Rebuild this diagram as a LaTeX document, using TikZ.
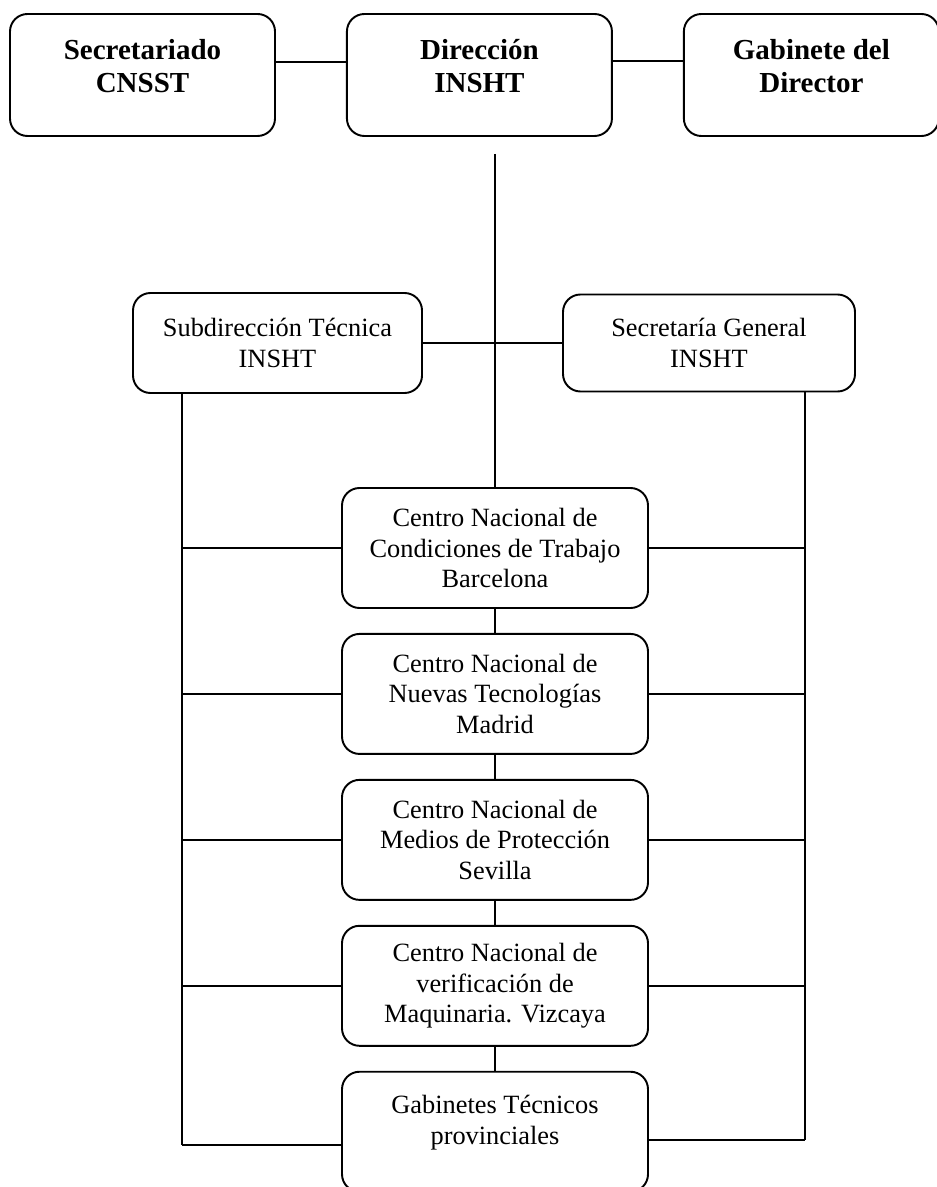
\documentclass[tikz,border=0pt]{standalone}
\usepackage{fontspec}
\setmainfont{Liberation Serif}
\usetikzlibrary{positioning}
\tikzset{
    auto,node distance =0.48 cm and 1.4 cm,% gap between the boxes of the centre column, and between the boxes of the top row
}

\begin{document}
\begin{tikzpicture}[line width=1.1pt
        ,orgbox/.style ={draw, rounded corners=0.35cm, align=center, font=\fontsize{15}{17.5}\selectfont}
        ,headbox/.style ={orgbox, minimum width=5.3cm, minimum height=2.44cm, font=\fontsize{16.5}{19}\selectfont\bfseries}
        ,centrebox/.style ={orgbox, minimum width=6.12cm, minimum height=2.4cm},]
            \useasboundingbox (0,0) rectangle (18.72,-23.74);
            \node[headbox] (secr) at (2.85,-1.5) {Secretariado\\CNSST\\[-9pt]\mbox{}};
            \node[headbox] (dir) [right =of secr] {Dirección\\INSHT\\[-9pt]\mbox{}};
            \node[headbox, minimum width=5.1cm] (gab) [right =of dir] {Gabinete del\\Director\\[-9pt]\mbox{}};
            \node[orgbox, minimum width=5.78cm, minimum height=2cm] (subd) at (5.55,-6.86) {Subdirección Técnica\\INSHT};
            \node[orgbox, minimum width=5.84cm, minimum height=1.94cm] (sgen) at (14.18,-6.86) {Secretaría General\\INSHT};
            \node[centrebox] (cnct) at (9.9,-10.96) {Centro Nacional de\\Condiciones de Trabajo\\Barcelona};
            \node[centrebox] (cnnt) [below =of cnct] {Centro Nacional de\\Nuevas Tecnologías\\Madrid};
            \node[centrebox] (cnmp) [below =of cnnt] {Centro Nacional de\\Medios de Protección\\Sevilla};
            \node[centrebox] (cnvm) [below =of cnmp] {Centro Nacional de\\verificación de\\Maquinaria. Vizcaya};
            \node[centrebox] (gtp) [below =of cnvm] {Gabinetes Técnicos\\provinciales\\[-4pt]\mbox{}};
            \coordinate (lrail) at (3.64,-22.9);
            \coordinate (rrail) at (16.1,-22.8);
            \path ([yshift=0.26cm]secr.east) edge ([yshift=0.26cm]dir.west);
            \path ([yshift=0.28cm]dir.east) edge ([yshift=0.28cm]gab.west);
            \path ([yshift=-0.34cm]dir.south -| cnct.north) edge (cnct.north);
            \path (subd.east) edge (sgen.west);
            \path (subd.south -| lrail) edge (lrail);
            \path (sgen.south -| rrail) edge (rrail);
            \path (cnct) edge (cnnt);
            \path (cnnt) edge (cnmp);
            \path (cnmp) edge (cnvm);
            \path (cnvm) edge (gtp);
            \path (cnct.west) edge (cnct.west -| lrail);
            \path (cnnt.west) edge (cnnt.west -| lrail);
            \path (cnmp.west) edge (cnmp.west -| lrail);
            \path (cnvm.west) edge (cnvm.west -| lrail);
            \path (gtp.west |- lrail) edge (lrail);
            \path (cnct.east) edge (cnct.east -| rrail);
            \path (cnnt.east) edge (cnnt.east -| rrail);
            \path (cnmp.east) edge (cnmp.east -| rrail);
            \path (cnvm.east) edge (cnvm.east -| rrail);
            \path (gtp.east |- rrail) edge (rrail);
        \end{tikzpicture}
\end{document}
